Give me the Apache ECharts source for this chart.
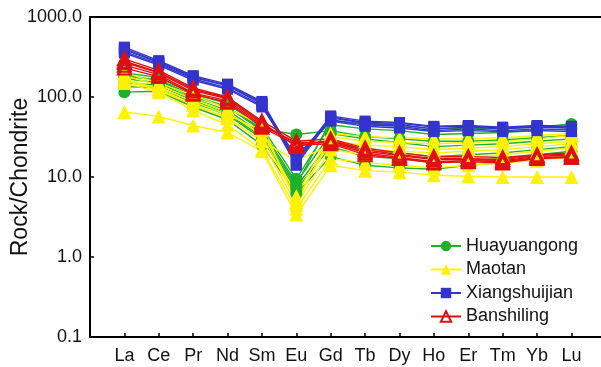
<!DOCTYPE html>
<html>
<head>
<meta charset="utf-8">
<script src="https://cdn.jsdelivr.net/npm/echarts@6/dist/echarts.min.js"></script>
<style>
  html, body { margin: 0; padding: 0; background: #fff; }
  #main { width: 601px; height: 367px; }
</style>
</head>
<body>
<div id="main"></div>
<script>
var elements = ['La','Ce','Pr','Nd','Sm','Eu','Gd','Tb','Dy','Ho','Er','Tm','Yb','Lu'];
var yTicks = [0.1, 1, 10, 100, 1000];

// Huayuangong samples
var huayuangong = [
    [115, 118, 75, 52, 25, 6.2, 18, 14, 13, 12.5, 14, 15, 17, 18],
    [150, 140, 90, 62, 32, 7.5, 28, 22, 20, 18, 19, 20, 22, 24],
    [180, 165, 105, 75, 38, 8.5, 35, 30, 27, 24, 25, 26, 28, 30],
    [200, 175, 110, 82, 42, 9.5, 45, 40, 38, 34, 35, 36, 38, 40],
    [170, 150, 95, 68, 35, 8, 50, 46, 44, 40, 41, 40, 42, 46],
    [135, 130, 85, 60, 30, 7, 24, 18, 17, 15, 16, 17, 19, 21],
    [190, 160, 100, 75, 40, 34, 38, 32, 30, 28, 28, 29, 31, 33]
];
// Maotan samples
var maotan = [
    [65, 57, 44, 36, 21, 3.4, 14, 12, 11.5, 10.5, 10.2, 10, 10, 10],
    [150, 115, 68, 45, 22, 4, 17, 15, 14, 13, 14, 15, 16, 18],
    [170, 125, 80, 55, 28, 4.5, 22, 19, 18, 17, 18, 19, 21, 23],
    [185, 140, 95, 65, 33, 5.2, 28, 25, 24, 22, 23, 24, 26, 28],
    [160, 130, 88, 60, 38, 5.8, 35, 32, 31, 30, 30, 31, 33, 35],
    [200, 150, 105, 72, 45, 4.8, 32, 28, 27, 26, 27, 28, 30, 33],
    [160, 120, 80, 55, 28, 16, 25, 22, 21, 20, 21, 22, 24, 26]
];
// Xiangshuijian samples
var xiangshuijian = [
    [420, 285, 185, 145, 88, 16, 58, 50, 48, 43, 44, 42, 44, 43],
    [390, 270, 175, 138, 82, 14, 55, 47, 45, 40, 42, 40, 42, 41],
    [370, 260, 168, 130, 78, 18, 52, 45, 43, 38, 40, 38, 40, 39],
    [400, 275, 180, 140, 85, 15, 56, 48, 47, 42, 43, 41, 43, 42],
    [355, 250, 162, 125, 75, 17, 50, 43, 41, 37, 38, 37, 38, 37]
];
// Banshiling samples
var banshiling = [
    [300, 215, 130, 100, 50, 28, 30, 23, 20, 18, 18, 17.5, 19, 20],
    [270, 200, 120, 95, 46, 26, 28, 21, 18.5, 16.5, 16.5, 16, 18, 19],
    [250, 190, 112, 90, 44, 27, 27, 20, 17.5, 15.5, 16, 15.5, 17.5, 18],
    [230, 180, 108, 86, 42, 25, 26, 19, 17, 15, 15.5, 15, 17, 17.5],
    [280, 205, 125, 98, 48, 24, 29, 22, 19, 17, 17, 16.5, 18.5, 19.5]
];

var groups = [
    {name: 'Huayuangong', rows: huayuangong, color: '#1fb02a', symbol: 'circle', size: 12, fill: '#1fb02a'},
    {name: 'Maotan', rows: maotan, color: '#fff200', symbol: 'triangle', size: 14, fill: '#fff200'},
    {name: 'Xiangshuijian', rows: xiangshuijian, color: '#3434cc', symbol: 'rect', size: 11, fill: '#3434cc'},
    {name: 'Banshiling', rows: banshiling, color: '#e01010', symbol: 'triangle', size: 13, fill: 'rgba(255,255,255,0)'}
];

var series = [];
groups.forEach(function (g) {
    g.rows.forEach(function (row) {
        series.push({
            name: g.name,
            type: 'line',
            data: row.map(function (v, i) { return [i + 1, v]; }),
            symbol: g.symbol,
            symbolSize: g.size,
            lineStyle: {color: g.color, width: 1.4},
            itemStyle: {
                color: g.fill,
                borderColor: g.color,
                borderWidth: g.fill === g.color ? 0 : 2
            }
        });
    });
});

var myChart = echarts.init(document.getElementById('main'));
var option = {
    animation: false,
    textStyle: {fontFamily: 'Liberation Sans, Arial, sans-serif'},
    grid: {left: 90, right: 0, top: 17, bottom: 30, containLabel: false, outerBoundsMode: 'none'},
    legend: {
        orient: 'vertical',
        left: 425,
        top: 232,
        itemWidth: 30,
        itemHeight: 13,
        itemGap: 5.5,
        textStyle: {fontSize: 18, color: '#111'},
        data: groups.map(function (g) { return g.name; })
    },
    xAxis: [{
        type: 'value',
        min: 0,
        max: 14.86,
        interval: 1,
        splitLine: {show: false},
        axisLine: {lineStyle: {color: '#000', width: 2}},
        axisTick: {inside: true, length: 4, lineStyle: {color: '#000', width: 1.5}},
        axisLabel: {
            fontSize: 18,
            color: '#111',
            margin: 10,
            showMaxLabel: false,
            formatter: function (v) {
                return (v >= 1 && v <= elements.length && v % 1 === 0) ? elements[v - 1] : '';
            }
        }
    }, {
        type: 'value',
        position: 'top',
        min: 0,
        max: 14.86,
        axisLine: {show: true, lineStyle: {color: '#000', width: 2}},
        axisTick: {show: false},
        axisLabel: {show: false},
        splitLine: {show: false}
    }],
    yAxis: {
        type: 'log',
        logBase: 10,
        min: yTicks[0],
        max: yTicks[yTicks.length - 1],
        name: 'Rock/Chondrite',
        nameLocation: 'middle',
        nameGap: 58,
        nameMoveOverlap: false,
        nameTextStyle: {fontSize: 23, color: '#111'},
        splitLine: {show: false},
        minorTick: {show: false},
        axisLine: {show: true, lineStyle: {color: '#000', width: 2}},
        axisTick: {show: true, inside: true, length: 4, lineStyle: {color: '#000', width: 1.5}},
        axisLabel: {
            fontSize: 18,
            color: '#111',
            margin: 8,
            formatter: function (v) { return Number(v).toFixed(1); }
        }
    },
    series: series
};
myChart.setOption(option);
</script>
</body>
</html>
